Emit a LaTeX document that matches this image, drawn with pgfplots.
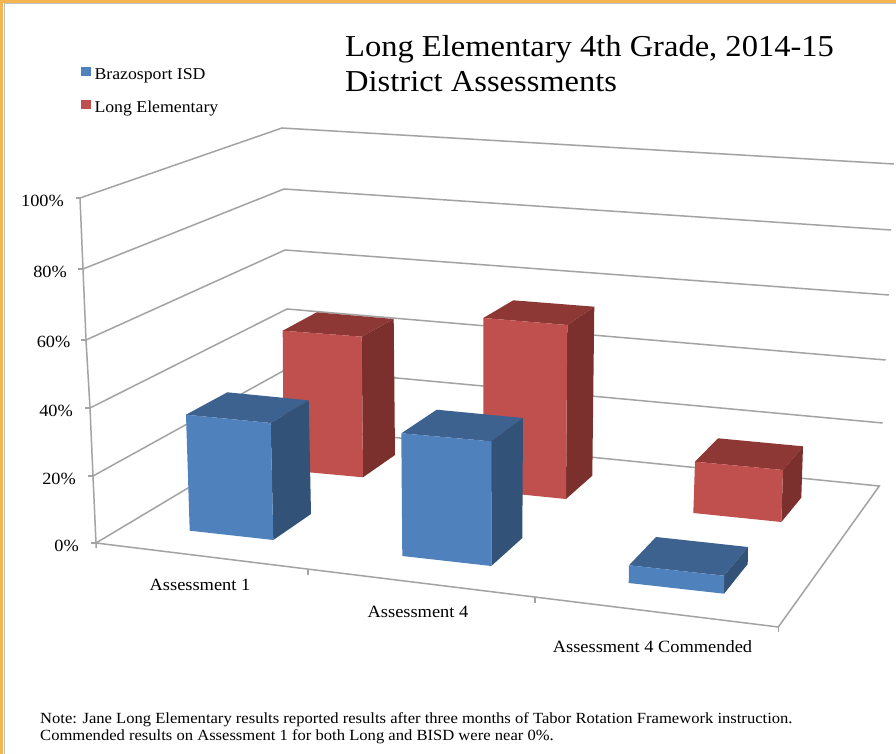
\documentclass[border=0pt]{standalone}
\usepackage{fontspec}
\setmainfont[FakeStretch=1.07]{Liberation Serif}
\usepackage{pgfplots}
\pgfplotsset{compat=1.18}
\definecolor{bfront}{HTML}{4F81BD}
\definecolor{btop}{HTML}{3E628F}
\definecolor{bside}{HTML}{325278}
\definecolor{rfront}{HTML}{C0504D}
\definecolor{rtop}{HTML}{8E3836}
\definecolor{rside}{HTML}{7B302E}
\definecolor{gridc}{HTML}{A3A3A3}
\definecolor{frameo}{HTML}{F6B553}
\newcommand\face[2]{\addplot[fill=#1,draw=none,forget plot] coordinates {#2} --cycle;}
\newcommand\gl[1]{\addplot[gridc,line width=1.5pt,forget plot] coordinates {#1};}
\newcommand\ticklab[3]{\node[anchor=base east,inner sep=0pt,font=\fontsize{17.1}{20}\selectfont] at (axis cs:#1,#2) {#3};}
\begin{document}
\begin{tikzpicture}
\begin{axis}[
  scale only axis, width=896pt, height=754pt,
  xmin=0, xmax=896, ymin=0, ymax=754, y dir=reverse,
  hide axis, no markers,
  legend style={draw=none, fill=none, at={(axis cs:81,67)}, anchor=north west,
    font=\fontsize{16.6}{19}\selectfont, row sep=19pt, inner sep=0pt, outer sep=0pt,
    legend cell align=left, nodes={inner sep=0pt, outer sep=0pt}},
  legend image code/.code={\fill[#1] (0pt,-1.5pt) rectangle (10pt,7.5pt);},
]
% page and frame
\face{white}{(0,0) (896,0) (896,754) (0,754)}
\face{frameo}{(0,0) (896,0) (896,3.3) (0,3.3)}
\face{frameo}{(0,0) (3.3,0) (3.3,754) (0,754)}
\addplot[gray!50,line width=0.6pt,forget plot] coordinates {(896,3.8) (3.8,3.8) (3.8,754)};

% value axis (front left edge) with ticks: 0,20,...,100 %
\gl{(96,548) (96,543) (93,476) (90,408) (86,340) (83,269) (80,198)}
\gl{(91,543) (96,543)} \gl{(88,476) (93,476)} \gl{(85,408) (90,408)}
\gl{(81,340) (86,340)} \gl{(78,269) (83,269)} \gl{(76,198) (80,198)}
% walls, 20..100 %
\gl{(93,476) (288.5,368) (882.7,423)}
\gl{(90,408) (287,309) (885.7,360)}
\gl{(86,340) (285,250) (889,295)}
\gl{(83,269) (284,189) (891,230)}
\gl{(80,198) (282,128) (894,164)}
% floor
\gl{(96,543) (290,427) (879.3,486) (778.3,627) (96,543)}
\gl{(778.3,627) (778.3,632)}
\gl{(308,569) (308,575)}
\gl{(535,597) (535,603)}

% Long Elementary (back row)
\face{rtop}{(282.7,330.7) (361.7,336.7) (393.7,319) (316.7,312.3)}
\face{rside}{(361.7,336.7) (393.7,319) (395,455) (363,477.3)}
\face{rfront}{(282.7,330.7) (361.7,336.7) (363,477.3) (283.7,470)}

\face{rtop}{(483.3,318) (567.3,325) (594.3,306.7) (513.3,300.3)}
\face{rside}{(567.3,325) (594.3,306.7) (592.3,475.7) (566,499)}
\face{rfront}{(483.3,318) (567.3,325) (566,499) (483.3,490.7)}

\face{rtop}{(695,461.7) (783,470) (803,446.3) (718,438.3)}
\face{rside}{(783,470) (803,446.3) (801.3,497.7) (781.3,522)}
\face{rfront}{(695,461.7) (783,470) (781.3,522) (693.3,513)}

% Brazosport ISD (front row)
\face{btop}{(186,414.7) (270.7,423) (308.7,400.3) (227.3,392.3)}
\face{bside}{(270.7,423) (308.7,400.3) (311,514) (273.3,540)}
\face{bfront}{(186,414.7) (270.7,423) (273.3,540) (189.7,530.7)}

\face{btop}{(401.3,433.3) (491.3,441.3) (523,418) (436.7,409.7)}
\face{bside}{(491.3,441.3) (523,418) (522.3,538) (491.3,566)}
\face{bfront}{(401.3,433.3) (491.3,441.3) (491.3,566) (402.3,556)}

\face{btop}{(629,565.3) (724,575.7) (748,547) (656,537)}
\face{bside}{(724,575.7) (748,547) (747.7,564) (724,593.7)}
\face{bfront}{(629,565.3) (724,575.7) (724,593.7) (628.7,583)}

% text
\node[anchor=base west,inner sep=0pt,font=\fontsize{30.4}{36}\selectfont] at (axis cs:345,57) {Long Elementary 4th Grade, 2014-15};
\node[anchor=base west,inner sep=0pt,font=\fontsize{30.4}{36}\selectfont] at (axis cs:345,92) {District Assessments};
\ticklab{64}{207}{100\%}
\ticklab{67}{277}{80\%}
\ticklab{70.5}{347}{60\%}
\ticklab{73}{416}{40\%}
\ticklab{76}{484}{20\%}
\ticklab{79}{551}{0\%}
\node[anchor=base,inner sep=0pt,font=\fontsize{17.2}{20}\selectfont] at (axis cs:200,590) {Assessment 1};
\node[anchor=base,inner sep=0pt,font=\fontsize{17.2}{20}\selectfont] at (axis cs:418,617) {Assessment 4};
\node[anchor=base,inner sep=0pt,font=\fontsize{17.2}{20}\selectfont] at (axis cs:652.5,652) {Assessment 4 Commended};
\node[anchor=base west,inner sep=0pt,font=\fontsize{15.5}{18}\selectfont] at (axis cs:40,723) {Note: Jane Long Elementary results reported results after three months of Tabor Rotation Framework instruction.};
\node[anchor=base west,inner sep=0pt,font=\fontsize{15.5}{18}\selectfont] at (axis cs:40,740) {Commended results on Assessment 1 for both Long and BISD were near 0\%.};

\addlegendimage{fill=bfront,draw=none}\addlegendentry{\hspace{3.5pt}Brazosport ISD}
\addlegendimage{fill=rfront,draw=none}\addlegendentry{\hspace{3.5pt}Long Elementary}
\end{axis}
\end{tikzpicture}
\end{document}
